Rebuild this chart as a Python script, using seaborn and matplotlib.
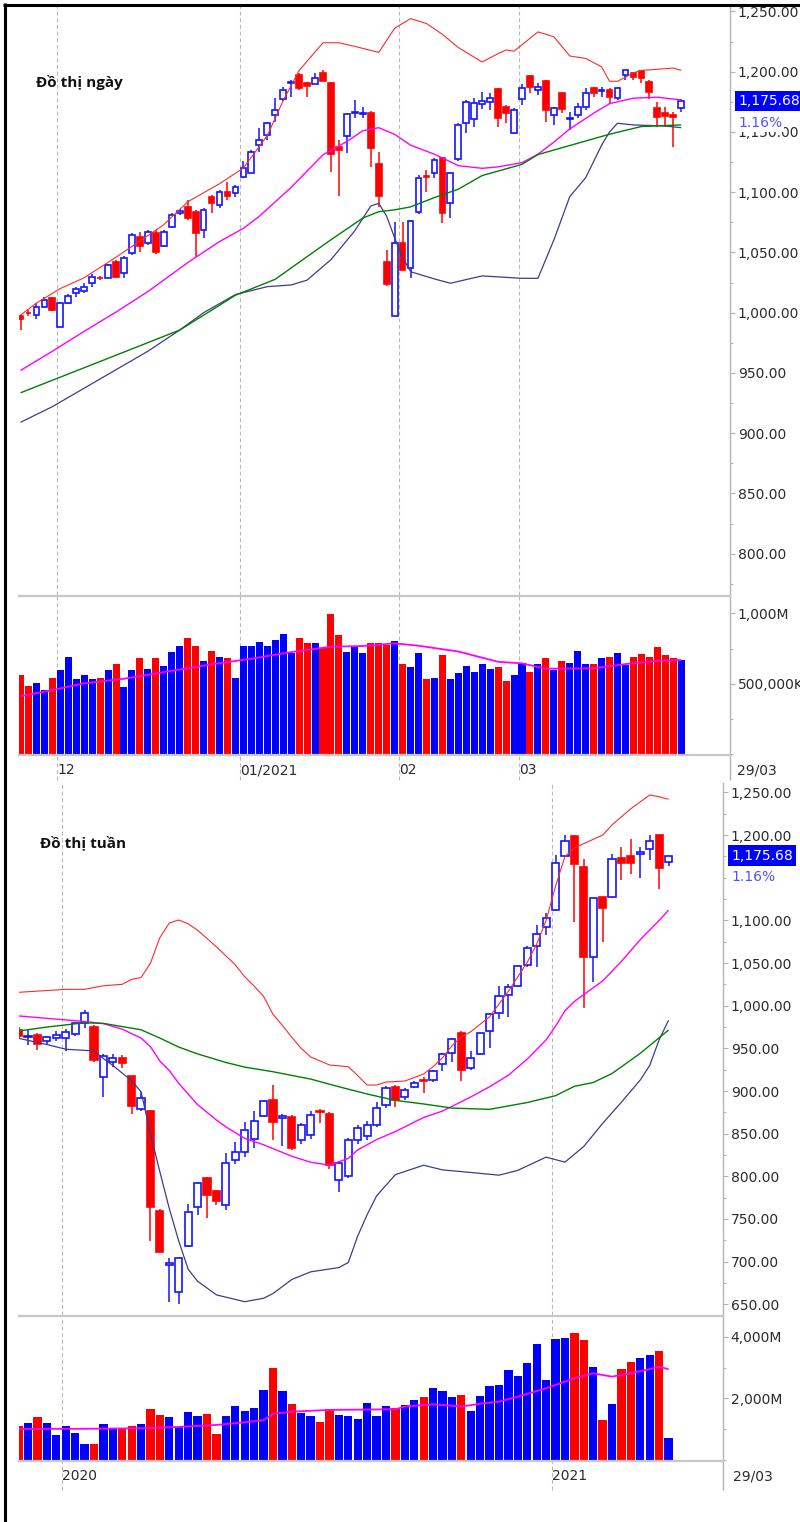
import matplotlib
matplotlib.use('Agg')
import matplotlib.pyplot as plt
import matplotlib.transforms as mtransforms
import numpy as np
import pandas as pd
import seaborn as sns
from matplotlib.lines import Line2D
from matplotlib.ticker import FuncFormatter, MultipleLocator

# ---------------------------------------------------------------------------
# daily chart, one entry per trading day (24/11/2020 .. 29/03/2021)
# ---------------------------------------------------------------------------
d_open = [996.9, 1000, 998, 1005, 1012, 988.4, 1008.3, 1016.6, 1018.3, 1024.4,
          1029, 1029, 1042.3, 1033.2, 1049.3, 1063, 1058.1, 1065.9, 1055.4, 1071.4,
          1083, 1088, 1083.8, 1068.6, 1095.8, 1089.4, 1100.4, 1099, 1112.9, 1116.2,
          1139.2, 1147.5, 1164.1, 1177.1, 1190.5, 1197.3, 1190.4, 1189.8, 1198.7, 1190.4,
          1137.3, 1146.6, 1166, 1165, 1166, 1123.2, 1042.3, 997.3, 1057.6, 1036.8,
          1083.8, 1113.5, 1115.7, 1128.1, 1090.8, 1127.6, 1157.2, 1160.5, 1173.2, 1174.6,
          1185.4, 1171, 1149.4, 1177.1, 1196.4, 1184.8, 1192.5, 1164.1, 1182, 1161,
          1164.1, 1171, 1186.2, 1184.2, 1184.8, 1177.9, 1197.3, 1198.7, 1200.8, 1191.7,
          1170.1, 1165.5, 1164.1, 1169.6]
d_high = [998, 1002, 1007.8, 1012.8, 1013, 1009, 1015.6, 1021.5, 1024.9, 1032,
          1030.5, 1040.5, 1043.5, 1047, 1066, 1067, 1068.5, 1068.5, 1068.5, 1082.5,
          1086, 1093.5, 1085.2, 1086.6, 1097.7, 1101.8, 1108.7, 1106, 1126, 1135,
          1153, 1158.6, 1178, 1187.6, 1193.1, 1198.7, 1191.5, 1198.7, 1201.4, 1191.7,
          1143.3, 1165.5, 1176.5, 1171, 1167.5, 1133.6, 1052, 1075.5, 1075, 1077,
          1114.5, 1118.4, 1128, 1129.5, 1117, 1157, 1176.5, 1178, 1183.4, 1182,
          1186.5, 1172, 1169.5, 1189.5, 1197.5, 1190.4, 1193.1, 1171, 1183.4, 1166.8,
          1173.8, 1186.2, 1187.6, 1186.9, 1186.2, 1187.6, 1201.8, 1200.1, 1201.4, 1192.8,
          1175.1, 1171, 1166.8, 1177.5]
d_low = [985.6, 997.5, 994.5, 1003.6, 1001, 988, 1006.8, 1013, 1016.6, 1021,
         1027, 1028.5, 1028.5, 1028.5, 1048, 1050.6, 1056, 1048.5, 1054.5, 1070,
         1081, 1076.5, 1046.5, 1061.7, 1082.7, 1086.6, 1093.6, 1096.1, 1111.5, 1115.5,
         1133.6, 1143.3, 1158.5, 1175.5, 1179.3, 1184.8, 1179.3, 1189.5, 1191.9, 1117,
         1096.8, 1132.8, 1161.3, 1161.8, 1121.2, 1088, 1022.2, 997, 1035, 1028.5,
         1081.8, 1100.4, 1111.5, 1074.2, 1078.3, 1126, 1148.9, 1154.4, 1168.8, 1168.2,
         1154.4, 1157.2, 1148.5, 1172, 1182, 1180.7, 1158.5, 1155.8, 1165.5, 1151.6,
         1161.3, 1168.2, 1179.3, 1179.3, 1173.8, 1176.5, 1193.1, 1193, 1190.4, 1177.1,
         1154.4, 1154.4, 1137.8, 1166.5]
d_close = [994.5, 999.5, 1005, 1010.5, 1002.2, 1008.3, 1013.9, 1019.4, 1021.6, 1029.4,
           1028.5, 1039.6, 1029.9, 1045.6, 1064.5, 1055.3, 1067.2, 1050.6, 1067.2, 1081,
           1084, 1078.3, 1066.4, 1085.2, 1090.8, 1100.4, 1096.8, 1104.6, 1119.8, 1133.6,
           1143.3, 1157.2, 1168.3, 1184.8, 1191.7, 1186.2, 1188.1, 1194.5, 1192.6, 1131.5,
           1135, 1164.9, 1166.8, 1165.5, 1136.4, 1096.8, 1023.8, 1057.6, 1035.4, 1076.1,
           1111.5, 1112.9, 1126.7, 1083, 1115.7, 1155.8, 1175.1, 1173.8, 1176, 1178.4,
           1161.3, 1165.5, 1168.2, 1186.2, 1187, 1187.6, 1168.2, 1169.6, 1168.8, 1161.8,
           1171, 1182.6, 1182, 1184.8, 1179.3, 1186.2, 1201.4, 1195.9, 1194.5, 1183.4,
           1162.7, 1163.3, 1162.2, 1175.68]
# volume in millions of shares
d_vol = [563, 485, 508, 456, 539, 596, 693, 532, 563, 532,
         539, 596, 638, 475, 596, 681, 605, 681, 626, 726,
         768, 823, 768, 660, 735, 693, 681, 539, 768, 768,
         799, 768, 811, 856, 716, 823, 787, 787, 752, 995,
         846, 728, 764, 716, 792, 792, 775, 806, 641, 617,
         716, 532, 539, 702, 532, 574, 626, 586, 641, 605,
         617, 520, 563, 650, 584, 641, 681, 598, 660, 650,
         735, 638, 638, 681, 693, 716, 631, 693, 714, 693,
         759, 702, 681, 671]

# bollinger upper / middle / lower, 50-day MA, volume MA (read at some days)
du_idx = [0, 2, 5, 8, 12, 16, 18, 21, 25, 28, 31, 33, 35, 38, 40, 42, 45, 47, 49,
          51, 53, 55, 58, 60, 61, 62, 65, 67, 69, 71, 73, 74, 75, 77, 78, 80, 82, 83]
du_val = [998, 1008, 1020, 1029, 1046, 1064, 1073, 1092, 1107, 1120, 1147, 1176,
          1201, 1224, 1224, 1221, 1216, 1236, 1244, 1240, 1231, 1220, 1208, 1215,
          1218, 1217, 1233, 1229, 1213, 1211, 1204, 1192, 1192, 1199, 1201, 1202,
          1203, 1201]
dm_idx = [0, 4, 8, 12, 16, 21, 25, 28, 30, 34, 38, 41, 43, 45, 47, 49, 52, 55, 58,
          60, 63, 65, 67, 69, 72, 74, 77, 80, 83]
dm_val = [952, 968, 984.5, 1000.5, 1017.5, 1041.5, 1059, 1070, 1080, 1104, 1131,
          1142, 1151, 1153.5, 1148, 1139, 1131.5, 1122, 1119.8, 1121, 1124.5,
          1131.5, 1141.5, 1152.5, 1165.5, 1173.5, 1178, 1178.8, 1176.5]
dl_idx = [0, 4, 10, 16, 20, 23, 27, 31, 34, 36, 39, 42, 44, 45, 46, 47, 48, 49, 52,
          54, 56, 58, 63, 65, 67, 69, 71, 73, 74, 75, 77, 81, 83]
dl_val = [909, 922, 945, 968, 985.6, 1000, 1015, 1021.6, 1023, 1027, 1044, 1068,
          1088.5, 1090.8, 1080, 1062, 1046, 1034, 1028, 1024.4, 1027.5, 1030.5,
          1028.5, 1028.5, 1060.3, 1096.3, 1112, 1139, 1150, 1157.2, 1155.8, 1154.9,
          1153.5]
dg_idx = [0, 5, 10, 15, 20, 24, 27, 32, 36, 39, 43, 45, 47, 49, 52, 55, 58, 63, 65,
          70, 74, 78, 83]
dg_val = [933.5, 946.5, 959.5, 972.5, 985.6, 1002, 1014.5, 1027.7, 1046.5, 1060.5,
          1078.5, 1083.8, 1085.3, 1087.8, 1095.5, 1102.5, 1113.8, 1123.1, 1131.2,
          1140.6, 1148.1, 1154.5, 1155.8]
dvm_idx = [0, 3, 8, 13, 18, 24, 29, 34, 39, 43, 47, 50, 55, 60, 63, 66, 72, 76, 80, 83]
dvm_val = [413, 444, 503, 536, 583, 638, 678, 725, 763, 768, 787, 770, 729, 656, 645,
           607, 610, 640, 663, 669]

d_month_idx = [5, 28, 48, 63]
d_month_lbl = ['12', '01/2021', '02', '03']

# ---------------------------------------------------------------------------
# weekly chart, one entry per week (02/12/2019 .. 29/03/2021)
# ---------------------------------------------------------------------------
w_open = [972, 963.5, 965.7, 959, 962.5, 962.5, 966.8, 979.4, 975.4, 916.8,
          934.4, 939, 917.6, 878.5, 876.9, 759.7, 696, 664.7, 718.3, 763.7,
          797.7, 782.4, 766.4, 819, 828.9, 844, 870.7, 889.5, 868, 869.9,
          842.6, 848.4, 877, 873, 795.7, 800.4, 842.6, 847.2, 860.1, 883.6,
          905.1, 892.6, 904.3, 912.5, 912.9, 931.7, 944.2, 967.6, 926.6, 943.4,
          970.7, 991.8, 1012.5, 1023.4, 1047.7, 1070.3, 1092.6, 1112.2, 1175.5, 1198.9,
          1163, 1056.7, 1127.8, 1127.1, 1172.8, 1175.5, 1178, 1183.4, 1200.1, 1168.8]
w_high = [975, 971.5, 967.8, 964.5, 970.6, 972.3, 981, 995.3, 977.3, 943.6,
          943.6, 941.8, 918, 899.2, 878, 762, 703.9, 705, 767.5, 793,
          799, 784, 827, 840.6, 864, 876.9, 889.6, 907, 873, 872,
          862, 876, 879, 875, 818, 845, 860, 865, 887.5, 906,
          907, 903, 912, 916.8, 924.5, 945, 962, 970.7, 946.9, 968,
          991.5, 1023.1, 1026, 1047.5, 1070, 1094.6, 1108.3, 1176.7, 1200.1, 1200,
          1171.6, 1126, 1128, 1177.5, 1185.7, 1195.1, 1185.7, 1200.1, 1200.5, 1176]
w_low = [962, 954, 948, 955, 959, 947.2, 965, 973.9, 934, 892.6,
         928.7, 926.9, 873, 877, 724.5, 711, 653, 650.3, 717, 754.6,
         750.8, 766, 760.5, 814, 823, 833, 869, 842.6, 835, 831,
         838, 844, 862, 808, 781.6, 798, 838, 843, 858, 880,
         880.9, 890, 903, 897.3, 911, 924, 934, 912.1, 925, 942,
         950, 984.4, 987.1, 1022, 1045, 1045.7, 1082.9, 1111, 1174, 1098.5,
         997, 1028.1, 1075, 1126, 1147.4, 1154.4, 1149.4, 1170.8, 1136.5, 1163.8]
w_close = [964, 965, 955.1, 963.7, 965.7, 969.5, 979.4, 991.8, 936.3, 941,
           939, 932.5, 882.8, 891.4, 763.7, 711.6, 698, 703.9, 758.5, 791.8,
           778.1, 770.7, 816, 828.9, 854.3, 865.2, 888.7, 864, 871, 833.6,
           860, 871.8, 875, 813, 815.6, 842.6, 856.6, 860.1, 879.7, 903.2,
           889.5, 901.2, 909, 911.7, 923.8, 943.4, 960.6, 924.6, 938.3, 967.6,
           990.3, 1011.4, 1022.3, 1046.5, 1068, 1083.7, 1103.2, 1167.6, 1193.4, 1165.8,
           1056.7, 1125.9, 1114.2, 1171.6, 1166.9, 1166.9, 1180, 1193.1, 1161.1, 1175.68]
w_vol = [1122, 1198, 1392, 1198, 809, 1122, 896, 540, 540, 1165,
         1014, 1014, 1122, 1165, 1651, 1478, 1392, 1090, 1565, 1424,
         1511, 842, 1424, 1748, 1608, 1694, 2277, 2989, 2234, 1834,
         1532, 1424, 1230, 1650, 1470, 1420, 1330, 1860, 1430, 1750,
         1690, 1800, 1950, 2060, 2330, 2250, 2060, 2100, 1600, 2070,
         2420, 2450, 2910, 2740, 3150, 3750, 2600, 3928, 3971, 4111,
         3895, 3032, 1306, 1834, 2956, 3183, 3302, 3410, 3539, 734]

wu_idx = [0, 5, 7, 9, 11, 12, 13, 14, 15, 16, 17, 18, 19, 21, 23, 24, 25, 26, 27, 28,
          29, 30, 31, 33, 35, 36, 37, 38, 39, 41, 43, 44, 45, 46, 47, 48, 50, 52, 54,
          55, 56, 57, 58, 59, 60, 62, 63, 65, 67, 68, 69]
wu_val = [1015.7, 1019.2, 1019.2, 1023.4, 1025.1, 1031, 1033, 1050, 1080, 1097,
          1100.5, 1096, 1088.5, 1069, 1048, 1034, 1023, 1011, 990, 977, 963, 950,
          940, 930.5, 928.5, 918, 907, 907, 910.5, 911.7, 920, 928.5, 939, 953,
          963.5, 969.5, 987, 1017, 1051, 1072, 1100, 1140, 1175, 1185, 1190, 1200,
          1212, 1231, 1247, 1245, 1242]
wm_idx = [0, 3, 7, 9, 11, 13, 14, 15, 16, 17, 19, 21, 22, 24, 26, 29, 31, 33, 35, 36,
          38, 40, 43, 45, 48, 50, 52, 54, 56, 57, 58, 59, 61, 62, 64, 66, 68, 69]
wm_val = [988, 985.2, 981.5, 979, 972.5, 962, 952, 935, 924, 909, 884, 866, 858,
          844.5, 837, 823.5, 816.5, 813, 821, 831, 843, 852.5, 869, 876.5, 893, 905,
          918.5, 937.5, 960, 976, 994, 1005, 1021, 1029, 1052, 1077.5, 1100, 1112]
wl_idx = [0, 3, 5, 8, 9, 10, 11, 12, 13, 14, 15, 16, 17, 18, 19, 21, 24, 26, 27, 29,
          31, 34, 35, 36, 37, 38, 40, 43, 45, 48, 51, 53, 56, 58, 60, 62, 64, 66, 67,
          68, 69]
wl_val = [961.8, 954.5, 949, 947, 938, 930, 921, 912, 899, 850, 805, 762, 724, 691,
          677, 661, 653, 657, 662.5, 679, 688, 693, 699, 730, 755, 777, 802, 813,
          807.5, 804.5, 801.3, 807, 822.5, 816.6, 835, 862, 887, 913, 930, 960, 983]
wg_idx = [0, 3, 7, 9, 11, 13, 15, 17, 19, 22, 24, 27, 31, 34, 37, 40, 43, 46, 50, 54,
          57, 59, 61, 63, 66, 69]
wg_val = [970.3, 975, 980, 979.3, 975.5, 971.8, 962, 951.5, 943.5, 933.5, 928, 922.6,
          914, 905, 896.5, 889, 884.8, 880, 878.5, 886.5, 894.5, 905.5, 910, 920.5,
          944.2, 971.5]
wvm_idx = [0, 7, 13, 17, 21, 24, 26, 27, 29, 33, 40, 41, 44, 47, 49, 51, 53, 56, 59,
           61, 62, 63, 65, 67, 68, 69]
wvm_val = [1014, 1020, 1036, 1080, 1144, 1230, 1300, 1500, 1575, 1630, 1651, 1737,
           1813, 1740, 1830, 1900, 2061, 2331, 2654, 2816, 2760, 2708, 2816, 2950,
           3032, 2946]

w_year_idx = [5, 57]
w_year_lbl = ['2020', '2021']

last_close = 1175.68
last_pct = '1.16%'

# colours
BLUE = '#0000ff'
CBLUE = '#1414ff'
RED = '#ff0000'
MAG = '#ff00ff'
GREEN = '#008000'
NAVY = '#3c3c8c'
UPPER = '#ff2a2a'
AXC = '#b4b4b4'
SEP = '#c8c8c8'
GRID = '#b8b8b8'
TXT = '#2b2b2b'
PCT = '#5050ff'

sns.set_theme(style='white')
plt.rcParams['font.family'] = ['DejaVu Sans']
plt.rcParams['lines.solid_capstyle'] = 'butt'

W, H = 800, 1522
fig = plt.figure(figsize=(W / 100, H / 100), dpi=100)
fig.patch.set_facecolor('white')


def add_ax(x0, y0, x1, y1):
    return fig.add_axes([x0 / W, 1 - y1 / H, (x1 - x0) / W, (y1 - y0) / H])


def draw_candles(ax, o, h, l, c, body_w, min_body):
    o, h, l, c = (np.asarray(a, float) for a in (o, h, l, c))
    idx = np.arange(len(o))
    up = c >= o
    ax.vlines(idx, l, h, colors=np.where(up, CBLUE, RED), lw=1.1, zorder=3)
    bottom = np.minimum(o, c)
    height = np.maximum(np.abs(c - o), min_body)
    ax.bar(idx[up], height[up], bottom=bottom[up], width=body_w,
           facecolor='white', edgecolor=CBLUE, linewidth=1.2, zorder=4)
    ax.bar(idx[~up], height[~up], bottom=bottom[~up], width=body_w,
           facecolor=RED, edgecolor=RED, linewidth=1.2, zorder=4)
    return up


def draw_volume(ax, vol, up, ma_idx, ma_val):
    df = pd.DataFrame({'i': np.arange(len(vol)), 'vol': vol,
                       'dir': np.where(up, 'up', 'down')})
    sns.barplot(data=df, x='i', y='vol', hue='dir',
                palette={'up': BLUE, 'down': RED}, native_scale=True,
                width=0.88, dodge=False, errorbar=None, legend=False,
                saturation=1, linewidth=0, ax=ax)
    sns.lineplot(x=ma_idx, y=ma_val, color=MAG, lw=1.3, ax=ax, zorder=5)
    ax.set_xlabel('')
    ax.set_ylabel('')


def style_panel(ax):
    ax.set_facecolor('white')
    for s in ['left', 'top', 'bottom']:
        ax.spines[s].set_visible(False)
    ax.spines['right'].set_color(AXC)
    ax.spines['right'].set_linewidth(1.0)
    ax.yaxis.tick_right()
    ax.tick_params(axis='y', which='both', left=False, right=True,
                   labelleft=False, labelright=True, color=AXC, width=0.8)
    ax.tick_params(axis='y', which='major', length=3.5, pad=2,
                   labelsize=10, labelcolor=TXT)
    ax.tick_params(axis='y', which='minor', length=2)


def price_axis(ax, ylim, majors):
    style_panel(ax)
    ax.set_ylim(*ylim)
    ax.set_yticks(majors)
    ax.yaxis.set_minor_locator(MultipleLocator(25))
    ax.yaxis.set_major_formatter(FuncFormatter(lambda v, p: f'{v:,.2f}'))
    ax.set_xticks([])


def volume_axis(ax, ylim, majors, labels, minors, ext):
    style_panel(ax)
    ax.spines['top'].set_visible(True)
    ax.spines['bottom'].set_visible(True)
    for s in ['top', 'bottom']:
        ax.spines[s].set_color(SEP)
        ax.spines[s].set_linewidth(1.6)
    ax.set_ylim(*ylim)
    ax.set_yticks(majors, labels)
    ax.set_yticks(minors, minor=True)
    ax.plot([1, 1], [0, -ext], transform=ax.transAxes, color=AXC,
            lw=1.0, clip_on=False)


def grid_lines(ax, pos, ext=0.0):
    for p in pos:
        ax.axvline(p, ymin=-ext, ymax=1, color=GRID, lw=0.8,
                   ls=(0, (3.5, 2.5)), zorder=0.5, clip_on=False)


def x_labels(ax, pos, labels, pad_px):
    ax.set_xticks(pos, labels)
    ax.tick_params(axis='x', length=0, pad=6, labelsize=10, labelcolor=TXT)
    for t in ax.get_xticklabels():
        t.set_horizontalalignment('left')
    ax.annotate('29/03', xy=(1, 0), xycoords='axes fraction',
                xytext=(pad_px, -8), textcoords='offset pixels',
                ha='left', va='top', fontsize=10, color=TXT,
                annotation_clip=False)


def price_tag(ax, dx, dy_pct):
    tr = mtransforms.blended_transform_factory(ax.transAxes, ax.transData)
    ax.annotate(f'{last_close:,.2f}', xy=(1, last_close), xycoords=tr,
                xytext=(dx, 0), textcoords='offset pixels', ha='left',
                va='center', fontsize=10, color='white', zorder=10,
                annotation_clip=False,
                bbox=dict(boxstyle='square,pad=0.25', fc=BLUE, ec='none'))
    ax.annotate(last_pct, xy=(1, last_close), xycoords=tr,
                xytext=(dx, dy_pct), textcoords='offset pixels', ha='left',
                va='center', fontsize=10, color=PCT, zorder=10,
                annotation_clip=False,
                bbox=dict(boxstyle='square,pad=0.15', fc='white', ec='none'))


def overlay(ax, specs):
    for xs, ys, col, lw in specs:
        sns.lineplot(x=xs, y=ys, color=col, lw=lw, ax=ax, zorder=5)
    ax.set_xlabel('')
    ax.set_ylabel('')


# ---------------- daily chart ----------------
dp = add_ax(19, 6, 730, 595)
dv = add_ax(19, 596, 730, 755)
d_grid = [m - 0.4 for m in d_month_idx]

d_up = draw_candles(dp, d_open, d_high, d_low, d_close, 0.72, 0.35)
overlay(dp, [(du_idx, du_val, UPPER, 0.8), (dm_idx, dm_val, MAG, 1.0),
             (dl_idx, dl_val, NAVY, 0.9), (dg_idx, dg_val, GREEN, 1.0)])
price_axis(dp, (765.7, 1254.5), np.arange(800, 1251, 50))
grid_lines(dp, d_grid)
dp.set_xlim(-0.19, 89.13)
price_tag(dp, 8, -22)

draw_volume(dv, d_vol, d_up, dvm_idx, dvm_val)
volume_axis(dv, (-5, 1122.7), [500, 1000], ['500,000K', '1,000M'],
            [0, 250, 750], 0.16)
grid_lines(dv, d_grid, 0.16)
dv.set_xlim(-0.19, 89.13)
x_labels(dv, d_grid, d_month_lbl, 7)

# ---------------- weekly chart ----------------
wp = add_ax(19, 783, 723, 1315)
wv = add_ax(19, 1316, 723, 1461)
w_grid = [y - 0.4 for y in w_year_idx]

w_up = draw_candles(wp, w_open, w_high, w_low, w_close, 0.76, 0.4)
overlay(wp, [(wu_idx, wu_val, UPPER, 0.8), (wm_idx, wm_val, MAG, 1.0),
             (wl_idx, wl_val, NAVY, 0.9), (wg_idx, wg_val, GREEN, 1.0)])
price_axis(wp, (637.4, 1261.1),
           [650, 700, 750, 800, 850, 900, 950, 1000, 1050, 1100, 1200, 1250])
grid_lines(wp, w_grid)
wp.set_xlim(0.04, 74.78)
price_tag(wp, 8, -21)

draw_volume(wv, w_vol, w_up, wvm_idx, wvm_val)
volume_axis(wv, (-23, 4670), [2000, 4000], ['2,000M', '4,000M'],
            [0, 1000, 3000], 0.2)
grid_lines(wv, w_grid, 0.2)
wv.set_xlim(0.04, 74.78)
x_labels(wv, w_grid, w_year_lbl, 10)

# titles
fig.text(36 / W, 1 - 82 / H, 'Đồ thị ngày', ha='left', va='center',
         fontsize=11, fontweight='bold', color='#111111',
         family=['Open Sans', 'DejaVu Sans'])
fig.text(40 / W, 1 - 843 / H, 'Đồ thị tuần', ha='left', va='center',
         fontsize=11, fontweight='bold', color='#111111',
         family=['Open Sans', 'DejaVu Sans'])

# black frame on the left and top
fig.add_artist(Line2D([4.5 / W, 4.5 / W], [0, 1 - 3 / H], color='black', lw=2.2))
fig.add_artist(Line2D([3 / W, 1], [1 - 4.5 / H, 1 - 4.5 / H], color='black', lw=2.2))

fig.savefig('out.png', dpi=100, facecolor='white')
